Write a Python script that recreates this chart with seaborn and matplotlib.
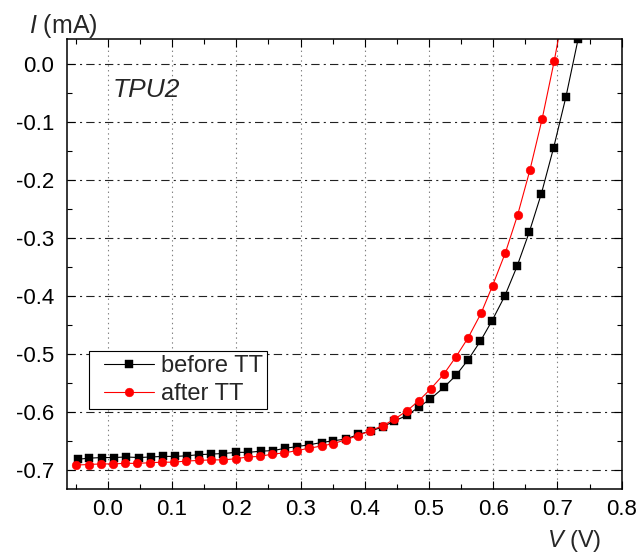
import matplotlib
matplotlib.use('Agg')
import numpy as np
import pandas as pd
import matplotlib.pyplot as plt
from matplotlib.ticker import MultipleLocator
from matplotlib.lines import Line2D
from matplotlib.legend_handler import HandlerLine2D
import seaborn as sns

# I-V curve of TPU2, before / after thermal treatment
v_before = [-0.047, -0.029, -0.009, 0.009, 0.029, 0.048, 0.067, 0.086, 0.105, 0.123,
            0.142, 0.161, 0.180, 0.200, 0.219, 0.238, 0.257, 0.276, 0.295, 0.313,
            0.333, 0.351, 0.371, 0.390, 0.410, 0.428, 0.446, 0.466, 0.484, 0.502,
            0.523, 0.542, 0.561, 0.580, 0.598, 0.618, 0.637, 0.656, 0.675, 0.694,
            0.713, 0.732]
i_before = [-0.682, -0.680, -0.679, -0.679, -0.678, -0.679, -0.678, -0.677, -0.677, -0.676,
            -0.674, -0.673, -0.672, -0.670, -0.670, -0.668, -0.667, -0.663, -0.660, -0.657,
            -0.653, -0.650, -0.647, -0.639, -0.633, -0.626, -0.616, -0.606, -0.592, -0.578,
            -0.558, -0.537, -0.510, -0.478, -0.443, -0.400, -0.349, -0.290, -0.223, -0.144,
            -0.057, 0.043]

v_after = [-0.050, -0.030, -0.011, 0.008, 0.027, 0.046, 0.065, 0.084, 0.103, 0.122,
           0.142, 0.161, 0.180, 0.199, 0.218, 0.237, 0.256, 0.275, 0.294, 0.313,
           0.333, 0.351, 0.371, 0.390, 0.408, 0.428, 0.446, 0.466, 0.484, 0.503,
           0.523, 0.542, 0.561, 0.581, 0.599, 0.619, 0.638, 0.657, 0.676, 0.695,
           0.714]
i_after = [-0.692, -0.691, -0.690, -0.690, -0.689, -0.689, -0.688, -0.687, -0.687, -0.685,
           -0.684, -0.683, -0.683, -0.681, -0.678, -0.677, -0.673, -0.671, -0.667, -0.663,
           -0.659, -0.655, -0.648, -0.641, -0.633, -0.624, -0.613, -0.598, -0.581, -0.560,
           -0.535, -0.505, -0.472, -0.430, -0.382, -0.325, -0.260, -0.183, -0.095, 0.006,
           0.120]

sns.set_style('ticks')
plt.rcParams['font.family'] = ['Liberation Sans', 'DejaVu Sans']
plt.rcParams['axes.unicode_minus'] = False
plt.rcParams['mathtext.fontset'] = 'custom'
plt.rcParams['mathtext.rm'] = 'Liberation Sans'
plt.rcParams['mathtext.it'] = 'Liberation Sans:italic'
plt.rcParams['lines.scale_dashes'] = False

fig = plt.figure(figsize=(6.4, 5.57), dpi=100)
ax = fig.add_axes([0.1042, 0.1224, 0.8672, 0.8067])

before = pd.DataFrame({'V': v_before, 'I': i_before})
after = pd.DataFrame({'V': v_after, 'I': i_after})

sns.lineplot(data=before, x='V', y='I', ax=ax, color='black', lw=0.8,
             marker='s', markersize=5.5, markeredgecolor='black', markeredgewidth=0.3,
             label='before TT')
sns.lineplot(data=after, x='V', y='I', ax=ax, color='red', lw=0.8,
             marker='o', markersize=6.3, markeredgecolor='red', markeredgewidth=0.3,
             label='after TT')

ax.set_xlim(-0.064, 0.8)
ax.set_ylim(-0.733, 0.043)
ax.set_xticks(np.arange(0, 0.81, 0.1))
ax.set_yticks(np.arange(-0.7, 0.01, 0.1))
ax.xaxis.set_minor_locator(MultipleLocator(0.05))
ax.yaxis.set_minor_locator(MultipleLocator(0.05))
ax.set_xticklabels([f'{t:.1f}' for t in np.arange(0, 0.81, 0.1)])
ax.set_yticklabels([f'{t:.1f}' if abs(t) > 1e-9 else '0.0' for t in np.arange(-0.7, 0.01, 0.1)])
ax.tick_params(which='both', direction='in', top=True, right=True, width=0.8,
               labelsize=16, color='black', labelcolor='black')
ax.tick_params(which='major', length=5.5)
ax.tick_params(which='minor', length=3.5)
ax.tick_params(axis='x', pad=7)
ax.tick_params(axis='y', pad=9)

ax.xaxis.grid(True, which='major', linestyle=(0, (1, 2.5)), color='#808080', lw=0.8)
ax.yaxis.grid(True, which='major', linestyle=(0, (6, 3, 1.5, 3)), color='#222222', lw=0.8)
ax.set_axisbelow(True)

for s in ax.spines.values():
    s.set_visible(True)
    s.set_linewidth(1.1)
    s.set_color('black')

ax.set_xlabel('')
ax.set_ylabel('')
fig.text(29 / 640, 0.940, r'$I$ (mA)', fontsize=18, ha='left', va='baseline')
fig.text(0.940, 0.0185, r'$V$ (V)', fontsize=17, ha='right', va='baseline')
ax.text(0.0834, 0.872, 'TPU2', transform=ax.transAxes, fontsize=19, style='italic',
        ha='left', va='baseline')

leg = ax.legend(loc='upper left', bbox_to_anchor=(0.040, 0.307), borderaxespad=0,
                fontsize=17, frameon=True, fancybox=False, framealpha=1,
                edgecolor='black', handlelength=2.6, handletextpad=0.3,
                borderpad=0.17, labelspacing=0.26,
                handler_map={Line2D: HandlerLine2D(xpad=0.45)})
leg.get_frame().set_linewidth(0.8)

fig.savefig('out.png', dpi=100)
